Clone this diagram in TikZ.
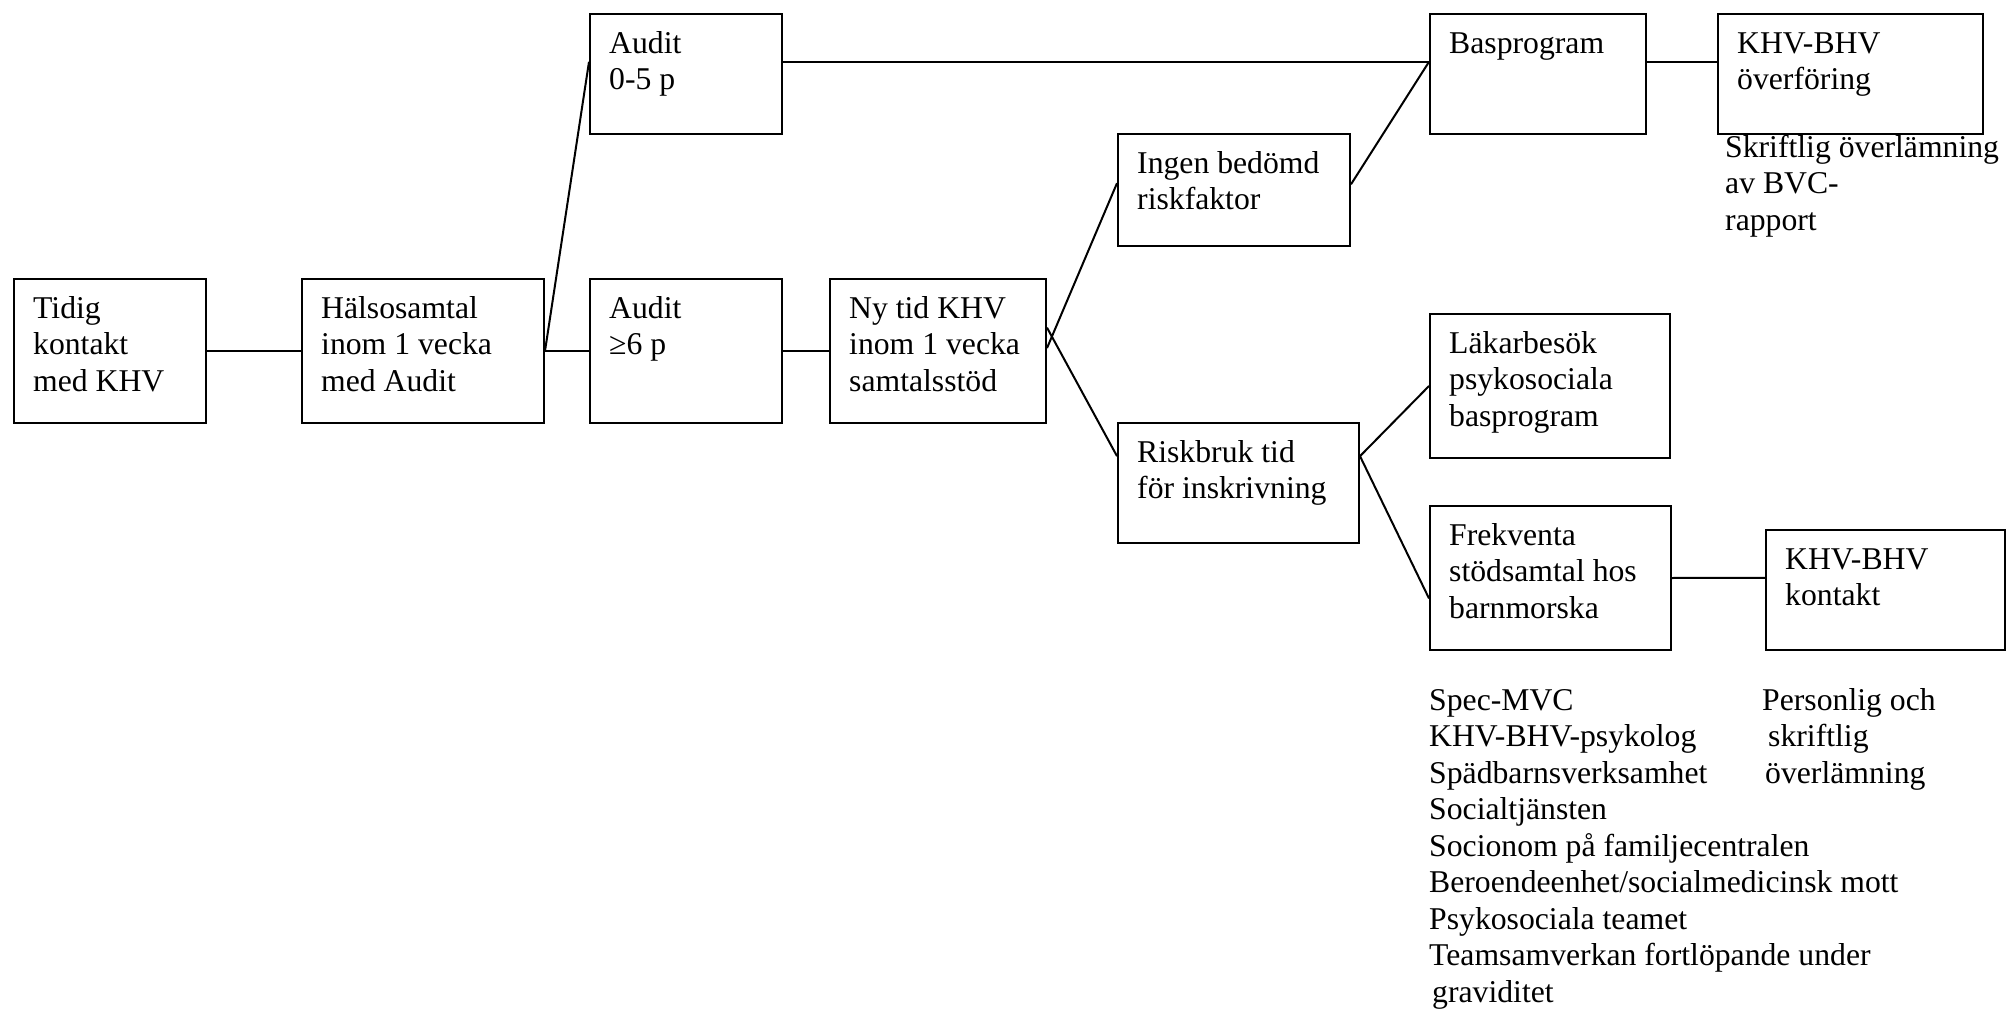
\documentclass[tikz,border=0pt]{standalone}
\usepackage{fontspec}
\setmainfont{Liberation Serif}
\usetikzlibrary{calc}
\newcommand\myfs{\fontsize{31.7}{36.5}\selectfont}
\newcommand\tp{\rule{0pt}{28pt}}
\newcommand\mybox[6]{%
  \node[bx, minimum width=#4pt, minimum height=#5pt] (#1) at (#2,#3) {};
  \node[txt] (#1t) at ($(#1.north west)+(20,12)$) {\tp{}#6};}
\begin{document}
\begin{tikzpicture}[x=1pt,y=-1pt,
  bx/.style={draw, line width=2pt, inner sep=0pt, anchor=north west},
  txt/.style={anchor=north west, inner sep=0pt, align=left, font=\myfs},
  ln/.style={line width=2pt}]
\useasboundingbox (0,0) rectangle (2006,1011);
\mybox{tidig}{13}{278}{192}{144}{Tidig\\kontakt\\med KHV}
\mybox{hals}{301}{278}{242}{144}{Hälsosamtal\\inom 1 vecka\\med Audit}
\mybox{aud05}{589}{13}{192}{120}{Audit\\0-5 p}
\mybox{aud6}{589}{278}{192}{144}{Audit\\≥6 p}
\mybox{nytid}{829}{278}{216}{144}{Ny tid KHV\\inom 1 vecka\\samtalsstöd}
\mybox{ingen}{1117}{133}{232}{112}{Ingen bedömd\\riskfaktor}
\mybox{risk}{1117}{422}{241}{120}{Riskbruk tid\\för inskrivning}
\mybox{bas}{1429}{13}{216}{120}{Basprogram}
\mybox{khvo}{1717}{13}{265}{120}{KHV-BHV\\överföring}
\mybox{lakar}{1429}{313}{240}{144}{Läkarbesök\\psykosociala\\basprogram}
\mybox{frekv}{1429}{505}{241}{144}{Frekventa\\stödsamtal hos\\barnmorska}
\mybox{khvk}{1765}{529}{239}{120}{KHV-BHV\\kontakt}

\draw[ln] (tidig.east) -- (hals.west);
\draw[ln] (hals.east) -- (aud6.west);
\draw[ln] (hals.east) -- ($(aud05.north west)!0.4!(aud05.south west)$);
\draw[ln] ($(aud05.north east)!0.4!(aud05.south east)$) -- ($(bas.north west)!0.4!(bas.south west)$);
\draw[ln] (aud6.east) -- (nytid.west);
\draw[ln] ($(nytid.north east)!0.48!(nytid.south east)$) -- ($(ingen.north west)!0.44!(ingen.south west)$);
\draw[ln] ($(nytid.north east)!0.34!(nytid.south east)$) -- ($(risk.north west)!0.28!(risk.south west)$);
\draw[ln] ($(ingen.north east)!0.45!(ingen.south east)$) -- ($(bas.north west)!0.4!(bas.south west)$);
\draw[ln] ($(bas.north east)!0.4!(bas.south east)$) -- ($(khvo.north west)!0.4!(khvo.south west)$);
\draw[ln] ($(risk.north east)!0.28!(risk.south east)$) -- (lakar.west);
\draw[ln] ($(risk.north east)!0.28!(risk.south east)$) -- ($(frekv.north west)!0.64!(frekv.south west)$);
\draw[ln] (frekv.east) -- ($(khvk.north west)!0.4!(khvk.south west)$);

\node[txt] (skr) at (1725,129) {\tp Skriftlig överlämning\\av BVC-\\rapport};
\node[txt] (lst) at (1429,682) {\tp Spec-MVC\\KHV-BHV-psykolog\\Spädbarnsverksamhet\\Socialtjänsten\\Socionom på familjecentralen\\Beroendeenhet/socialmedicinsk mott\\Psykosociala teamet\\Teamsamverkan fortlöpande under\\\hspace{3pt}graviditet};
\node[txt] (pers) at (1762,682) {\tp Personlig och\\\hspace{6pt}skriftlig\\\hspace{3pt}överlämning};
\end{tikzpicture}
\end{document}
